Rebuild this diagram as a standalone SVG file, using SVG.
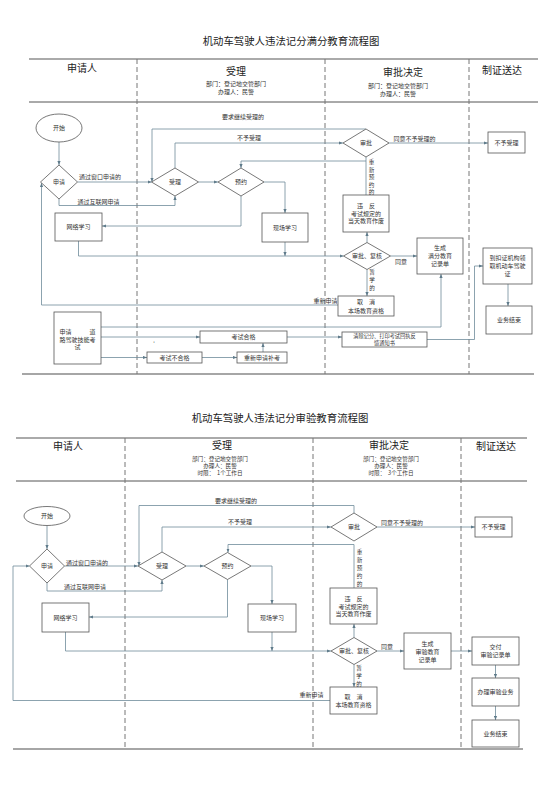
<svg xmlns="http://www.w3.org/2000/svg" width="554" height="800" viewBox="0 0 554 800">
<style>
text{font-family:"Noto Sans CJK SC","Noto Sans",sans-serif;fill:#333;text-anchor:middle}
.t{font-size:6px}
.s{font-size:5.6px}
.x{font-size:5.2px}
.h{font-size:10px;fill:#222}
.ti{font-size:10.4px;fill:#222}
.nd{fill:#fff;stroke:#555;stroke-width:0.8}
.c{fill:none;stroke:#6f8c9b;stroke-width:0.8}
.ca{fill:none;stroke:#6f8c9b;stroke-width:0.8;marker-end:url(#a)}
.d{stroke:#777;stroke-width:1;stroke-dasharray:5,3}
.l1{stroke:#aaa;stroke-width:2}
.l2{stroke:#555;stroke-width:1}
.l3{stroke:#888;stroke-width:1.5}
</style>
<defs>
<marker id="a" markerWidth="4" markerHeight="4" refX="4" refY="2" orient="auto" markerUnits="userSpaceOnUse"><path d="M0,0.4 L4,2 L0,3.6 z" fill="#5f7b8a"/></marker>
</defs>
<rect width="554" height="800" fill="#fff"/>

<!-- ===== TOP DIAGRAM ===== -->
<g id="top-frame">
<text class="ti" x="291" y="45">机动车驾驶人违法记分满分教育流程图</text>
<line class="l1" x1="29" y1="59" x2="538" y2="59"/>
<line class="l2" x1="29" y1="102" x2="538" y2="102"/>
<line class="l3" x1="22" y1="374" x2="534" y2="374"/>
<line class="d" x1="137" y1="59" x2="137" y2="374"/>
<line class="d" x1="325" y1="59" x2="325" y2="374"/>
<line class="d" x1="469" y1="59" x2="469" y2="374"/>
<text class="h" x="82" y="72">申请人</text>
<text class="h" x="236" y="75">受理</text>
<text class="t" x="236" y="86">部门：登记地交管部门</text>
<text class="t" x="236" y="94">办理人：民警</text>
<text class="h" x="403" y="76">审批决定</text>
<text class="t" x="398" y="88">部门：登记地交管部门</text>
<text class="t" x="398" y="95.5">办理人：民警</text>
<text class="h" x="502" y="74">制证送达</text>
</g>

<g id="top-connectors">
<path class="ca" d="M59,142 V165"/>
<path class="ca" d="M77.5,182 H151.5"/>
<text class="t" x="100" y="179">通过窗口申请的</text>
<path class="ca" d="M59,199 V205.5 H175 V196"/>
<text class="t" x="98.5" y="203.5">通过互联网申请</text>
<path class="ca" d="M198.5,182 H218"/>
<path class="ca" d="M241,196 V226 H102"/>
<path class="ca" d="M264,182 H285 V213"/>
<path class="ca" d="M78.5,241 V256 H343.5"/>
<path class="ca" d="M285,242 V256"/>
<path class="ca" d="M366,129 H152 V182"/>
<text class="t" x="243" y="119">要求继续受理的</text>
<path class="ca" d="M175,168 V143 H343"/>
<text class="t" x="249" y="140">不予受理</text>
<path class="ca" d="M389,143 H488"/>
<text class="t" x="414.5" y="140.5">同意不予受理的</text>
<path class="c" d="M366,157 V161"/>
<path class="ca" d="M366,195 V161 H241 V168"/>
<text class="s"><tspan x="371.5" y="164">重</tspan><tspan x="371.5" y="171.5">新</tspan><tspan x="371.5" y="179">预</tspan><tspan x="371.5" y="186.5">约</tspan><tspan x="371.5" y="194">的</tspan></text>
<path class="ca" d="M367,242.5 V232"/>
<path class="ca" d="M390.5,256 H417"/>
<text class="t" x="401" y="264">同意</text>
<path class="ca" d="M367,269.5 V296"/>
<text class="s"><tspan x="372" y="274">暂</tspan><tspan x="372" y="282">学</tspan><tspan x="372" y="290">的</tspan></text>
<path class="ca" d="M338,305 H41.5 V183"/>
<text class="t" x="325.5" y="302.5">重新申请</text>
<path class="ca" d="M101,327 H441 V274"/>
<path class="ca" d="M101,337 H200"/>
<path class="ca" d="M287,337 H342"/>
<path class="ca" d="M101,357.5 H147"/>
<path class="ca" d="M202,357.5 H237"/>
<path class="ca" d="M263,352 V343"/>
<path class="ca" d="M427,339.5 H474.5 V266 H483"/>
<path class="ca" d="M508,284 V306"/>
<text class="s" x="154" y="346">'</text>
</g>

<g id="t-start"><ellipse class="nd" cx="59" cy="128" rx="23" ry="14"/><text class="t" x="59" y="130">开始</text></g>
<g id="t-apply"><polygon class="nd" points="59,165 77.5,182 59,199 40.5,182"/><text class="t" x="59" y="184">申请</text></g>
<g id="t-accept"><polygon class="nd" points="175,168 198.5,182 175,196 151.5,182"/><text class="t" x="175" y="184">受理</text></g>
<g id="t-book"><polygon class="nd" points="241,168 264,182 241,196 218,182"/><text class="t" x="241" y="184">预约</text></g>
<g id="t-online"><rect class="nd" x="55" y="213" width="47" height="28"/><text class="t" x="78.5" y="229">网络学习</text></g>
<g id="t-onsite"><rect class="nd" x="262" y="213" width="46" height="29"/><text class="t" x="285" y="229.5">现场学习</text></g>
<g id="t-approve"><polygon class="nd" points="366,129 389,143 366,157 343,143"/><text class="t" x="366" y="145">审批</text></g>
<g id="t-reject"><rect class="nd" x="488" y="132" width="37" height="21"/><text class="t" x="506.5" y="144.5">不予受理</text></g>
<g id="t-violate"><rect class="nd" x="343" y="195" width="46" height="37"/><text class="t" x="366" y="208">违　反</text><text class="t" x="366" y="215.5">考试规定的</text><text class="t" x="366" y="223">当天教育作废</text></g>
<g id="t-review"><polygon class="nd" points="367,242.5 390.5,256 367,269.5 343.5,256"/><text class="t" x="367" y="258">审批、复核</text></g>
<g id="t-record"><rect class="nd" x="417" y="238" width="46" height="36"/><text class="t" x="440" y="250">生成</text><text class="t" x="440" y="258">满分教育</text><text class="t" x="440" y="265.5">记录单</text></g>
<g id="t-cancel"><rect class="nd" x="338" y="296" width="56" height="20"/><text class="t" x="366" y="304">取　消</text><text class="t" x="366" y="312.5">本场教育资格</text></g>
<g id="t-exam"><rect class="nd" x="54" y="312" width="47" height="52"/><text class="t" x="77.5" y="334">申请　　　道</text><text class="t" x="77.5" y="341.5">路驾驶技能考</text><text class="t" x="77.5" y="349">试</text></g>
<g id="t-pass"><rect class="nd" x="200" y="331" width="87" height="12"/><text class="t" x="243.5" y="339">考试合格</text></g>
<g id="t-fail"><rect class="nd" x="147" y="352" width="55" height="11"/><text class="t" x="174.5" y="359.7">考试不合格</text></g>
<g id="t-retake"><rect class="nd" x="237" y="352" width="50" height="11"/><text class="t" x="262" y="359.7">重新申请补考</text></g>
<g id="t-clear"><rect class="nd" x="342" y="332" width="85" height="15"/><text class="x" x="384.5" y="338">清除记分、打印考试回执反</text><text class="x" x="384.5" y="344.6">馈通知书</text></g>
<g id="t-collect"><rect class="nd" x="483" y="248" width="49" height="36"/><text class="t" x="507.5" y="260">到扣证机构领</text><text class="t" x="507.5" y="268">取机动车驾驶</text><text class="t" x="507.5" y="276">证</text></g>
<g id="t-end"><rect class="nd" x="486" y="306" width="46" height="28"/><text class="t" x="509" y="322">业务结束</text></g>

<!-- ===== BOTTOM DIAGRAM ===== -->
<g id="bottom-frame">
<text class="ti" x="280" y="422">机动车驾驶人违法记分审验教育流程图</text>
<line class="l1" x1="16" y1="438" x2="527" y2="438"/>
<line class="l2" x1="16" y1="481" x2="527" y2="481"/>
<line class="l3" x1="13" y1="749" x2="523" y2="749"/>
<line class="d" x1="125" y1="438" x2="125" y2="749"/>
<line class="d" x1="313" y1="438" x2="313" y2="749"/>
<line class="d" x1="461" y1="438" x2="461" y2="749"/>
<text class="h" x="68" y="450">申请人</text>
<text class="h" x="222" y="449">受理</text>
<text class="s" x="220" y="460.5">部门：登记地交管部门</text>
<text class="s" x="220" y="467.6">办理人：民警</text>
<text class="s" x="220" y="474.7">时限：　1个工作日</text>
<text class="h" x="389" y="449">审批决定</text>
<text class="s" x="391" y="460.5">部门：登记地交管部门</text>
<text class="s" x="391" y="467.6">办理人：民警</text>
<text class="s" x="391" y="474.7">时限：　3个工作日</text>
<text class="h" x="496" y="450">制证送达</text>
</g>

<g id="bottom-connectors">
<path class="ca" d="M47,525.5 V549"/>
<path class="ca" d="M64.5,566 H138"/>
<text class="t" x="87" y="565">通过窗口申请的</text>
<path class="ca" d="M47,583 V591 H162 V580"/>
<text class="t" x="85" y="589">通过互联网申请</text>
<path class="ca" d="M186,566 H204"/>
<path class="ca" d="M227.5,579.5 V617 H89"/>
<path class="ca" d="M251,566 H272 V604"/>
<path class="ca" d="M65.5,632 V651 H331"/>
<path class="ca" d="M272,632 V651"/>
<path class="ca" d="M354,513 V505.5 H139 V566"/>
<text class="t" x="236" y="503">要求继续受理的</text>
<path class="ca" d="M162,552 V527 H331"/>
<text class="t" x="240" y="524">不予受理</text>
<path class="ca" d="M377,527 H475"/>
<text class="t" x="402" y="525">同意不予受理的</text>
<path class="ca" d="M354,588 V544.5 H228 V552.5"/>
<text class="s"><tspan x="359.5" y="554">重</tspan><tspan x="359.5" y="562">新</tspan><tspan x="359.5" y="570">预</tspan><tspan x="359.5" y="578">约</tspan><tspan x="359.5" y="585.5">的</tspan></text>
<path class="ca" d="M354,637.5 V624"/>
<path class="ca" d="M377,651 H404"/>
<text class="t" x="387" y="649">同意</text>
<path class="ca" d="M451,651 H472"/>
<path class="ca" d="M495.5,665 V678"/>
<path class="ca" d="M495.5,706 V720"/>
<path class="ca" d="M354,664.5 V687"/>
<text class="s"><tspan x="359" y="670">暂</tspan><tspan x="359" y="678">学</tspan><tspan x="359" y="686">的</tspan></text>
<path class="ca" d="M330,700.5 H13 V566 H29.5"/>
<text class="t" x="311.5" y="697">重新申请</text>
</g>

<g id="b-start"><ellipse class="nd" cx="47" cy="516" rx="23" ry="9.5"/><text class="t" x="47" y="518">开始</text></g>
<g id="b-apply"><polygon class="nd" points="47,549 64.5,566 47,583 29.5,566"/><text class="t" x="47" y="568">申请</text></g>
<g id="b-accept"><polygon class="nd" points="162,552 186,566 162,580 138,566"/><text class="t" x="162" y="568">受理</text></g>
<g id="b-book"><polygon class="nd" points="227.5,552.5 251,566 227.5,579.5 204,566"/><text class="t" x="227.5" y="568">预约</text></g>
<g id="b-online"><rect class="nd" x="42" y="603" width="47" height="29"/><text class="t" x="65.5" y="619.5">网络学习</text></g>
<g id="b-onsite"><rect class="nd" x="248" y="604" width="48" height="28"/><text class="t" x="272" y="620">现场学习</text></g>
<g id="b-approve"><polygon class="nd" points="354,513 377,527 354,541 331,527"/><text class="t" x="354" y="529">审批</text></g>
<g id="b-reject"><rect class="nd" x="475" y="517" width="37" height="20"/><text class="t" x="493.5" y="529">不予受理</text></g>
<g id="b-violate"><rect class="nd" x="330" y="588" width="47" height="36"/><text class="t" x="353.5" y="601">违　反</text><text class="t" x="353.5" y="608.5">考试规定的</text><text class="t" x="353.5" y="616">当天教育作废</text></g>
<g id="b-review"><polygon class="nd" points="354,637.5 377,651 354,664.5 331,651"/><text class="t" x="354" y="653">审批、复核</text></g>
<g id="b-record"><rect class="nd" x="404" y="633" width="47" height="36"/><text class="t" x="427.5" y="646">生成</text><text class="t" x="427.5" y="654">审验教育</text><text class="t" x="427.5" y="661.5">记录单</text></g>
<g id="b-deliver"><rect class="nd" x="472" y="637" width="47" height="28"/><text class="t" x="495.5" y="649">交付</text><text class="t" x="495.5" y="656.5">审验记录单</text></g>
<g id="b-handle"><rect class="nd" x="472" y="678" width="47" height="28"/><text class="t" x="495.5" y="694">办理审验业务</text></g>
<g id="b-end"><rect class="nd" x="472" y="720" width="47" height="27"/><text class="t" x="495.5" y="735.5">业务结束</text></g>
<g id="b-cancel"><rect class="nd" x="330" y="687" width="47" height="27"/><text class="t" x="353.5" y="699">取　消</text><text class="t" x="353.5" y="706.5">本场教育资格</text></g>
</svg>
